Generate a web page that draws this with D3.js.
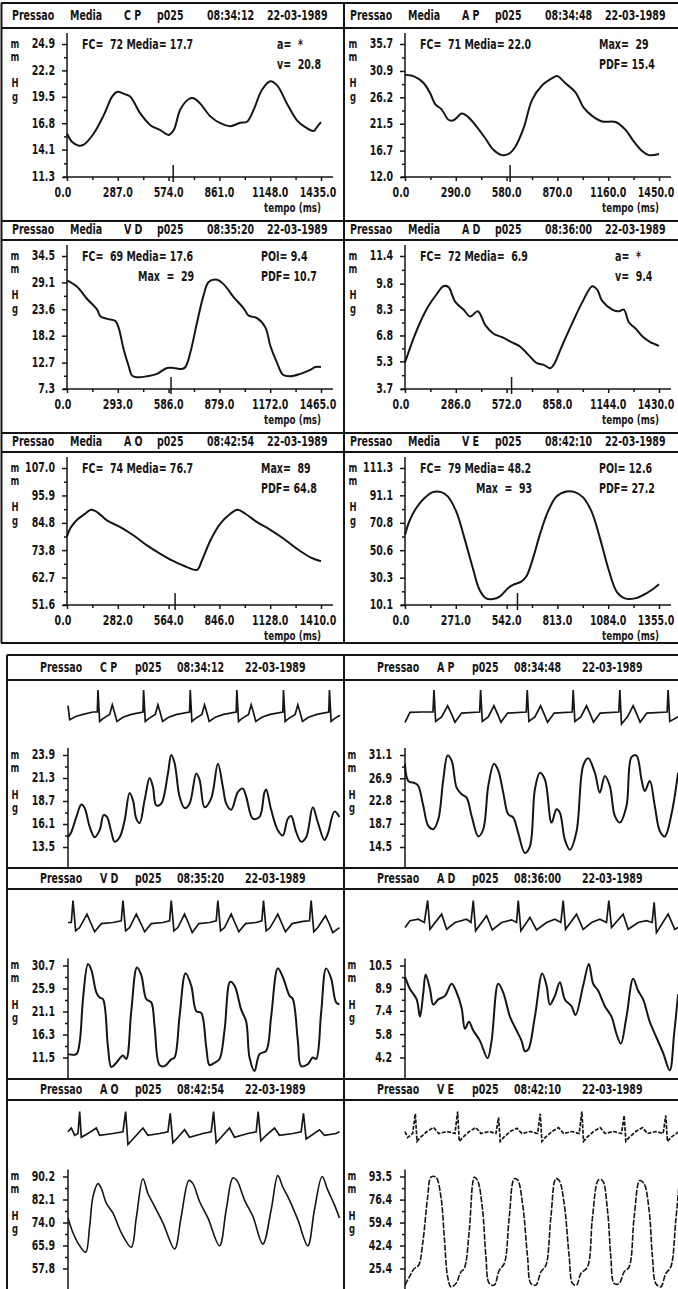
<!DOCTYPE html>
<html>
<head>
<meta charset="utf-8">
<script src="https://cdn.jsdelivr.net/npm/d3@7"></script>
<style>
  body { margin: 0; background: #fff; }
  svg { display: block; }
</style>
</head>
<body>
<svg id="chart" width="678" height="1289"></svg>
<script>
// ---- data ----
const patient = "p025";
const examDate = "22-03-1989";
const chambers = ["C P", "A P", "V D", "A D", "A O", "V E"];
const times = ["08:34:12", "08:34:48", "08:35:20", "08:36:00", "08:42:54", "08:42:10"];

const fcLines = ["FC=  72 Media= 17.7", "FC=  71 Media= 22.0", "FC=  69 Media= 17.6",
                 "FC=  72 Media=  6.9", "FC=  74 Media= 76.7", "FC=  79 Media= 48.2"];
const maxLines = ["", "", "Max  =  29", "", "", "Max  =  93"];
const rightTop = ["a=  *", "Max=  29", "POI= 9.4", "a=  *", "Max=  89", "POI= 12.6"];
const rightBottom = ["v=  20.8", "PDF= 15.4", "PDF= 10.7", "v=  9.4", "PDF= 64.8", "PDF= 27.2"];

// mean-beat panels: y tick labels (mmHg) and x tick labels (ms)
const cpMeanY = [24.9, 22.2, 19.5, 16.8, 14.1, 11.3];
const cpMeanX = [0, 287, 574, 861, 1148, 1435];
const apMeanY = [35.7, 30.9, 26.2, 21.5, 16.7, 12.0];
const apMeanX = [0, 290, 580, 870, 1160, 1450];
const vdMeanY = [34.5, 29.1, 23.6, 18.2, 12.7, 7.3];
const vdMeanX = [0, 293, 586, 879, 1172, 1465];
const adMeanY = [11.4, 9.8, 8.3, 6.8, 5.3, 3.7];
const adMeanX = [0, 286, 572, 858, 1144, 1430];
const aoMeanY = [107.0, 95.9, 84.8, 73.8, 62.7, 51.6];
const aoMeanX = [0, 282, 564, 846, 1128, 1410];
const veMeanY = [111.3, 91.1, 70.8, 50.6, 30.3, 10.1];
const veMeanX = [0, 271, 542, 813, 1084, 1355];
const cursorMs = 600;

// mean beat curves [ms, mmHg]
const cpMean = [[0,15.75],[28,14.9],[66,14.5],[94,14.6],[151,15.75],[207,17.6],[254,19.5],[282,20.0],[330,19.75],[358,19.5],[414,17.8],[471,16.6],[527,16.1],[574,15.6],[603,16.1],[640,18.2],[687,19.25],[715,19.35],[753,18.8],[810,17.5],[866,16.8],[923,16.5],[979,16.85],[1017,16.95],[1054,18.15],[1101,20.2],[1149,21.1],[1186,20.7],[1243,18.8],[1299,17.1],[1346,16.4],[1393,16.0],[1412,16.4],[1435,16.9]];
const apMean = [[0,30.2],[57,29.85],[105,28.8],[143,26.95],[172,25.0],[210,24.0],[248,22.2],[277,22.1],[324,23.3],[353,22.9],[401,21.3],[458,18.9],[506,16.8],[553,15.9],[591,16.1],[630,17.4],[677,20.7],[725,25.7],[782,28.3],[840,29.6],[868,30.0],[916,28.7],[973,27.1],[1021,24.3],[1068,22.9],[1126,21.9],[1202,21.8],[1259,20.4],[1307,18.3],[1355,16.6],[1393,15.9],[1450,16.1]];
const vdMean = [[0,29.5],[58,28.2],[115,25.75],[173,23.57],[192,22.2],[231,21.65],[279,21.2],[298,19.8],[327,15.4],[356,11.96],[375,10.03],[404,9.7],[461,9.9],[519,10.4],[577,11.6],[615,11.6],[663,11.4],[683,11.8],[711,14.7],[750,20.9],[788,26.5],[817,29.2],[865,29.65],[904,28.7],[961,26.1],[1019,23.8],[1048,22.3],[1096,21.8],[1144,19.9],[1173,16.1],[1211,12.7],[1246,10.2],[1288,9.9],[1346,10.4],[1403,11.2],[1432,11.8],[1465,11.8]];
const adMean = [[0,5.24],[19,5.8],[47,6.6],[85,7.55],[132,8.5],[179,9.2],[216,9.65],[245,9.6],[282,8.76],[329,8.3],[367,7.9],[410,8.2],[452,7.4],[499,6.9],[546,6.7],[602,6.4],[649,6.15],[696,5.66],[743,5.2],[781,5.1],[818,4.9],[837,5.1],[884,6.2],[941,7.5],[997,8.7],[1054,9.65],[1082,9.45],[1110,8.8],[1167,8.3],[1204,8.2],[1232,8.3],[1261,7.55],[1298,7.2],[1336,6.75],[1383,6.4],[1430,6.2]];
const aoMean = [[0,79.3],[19,82.7],[56,86.1],[93,88.1],[133,90.1],[167,89.2],[222,85.8],[296,83.1],[370,79.7],[444,75.7],[518,72.3],[592,69.3],[666,66.9],[722,65.8],[749,69.6],[796,77.7],[851,84.5],[907,88.5],[947,90.1],[990,88.5],[1055,85.1],[1129,82.0],[1203,78.4],[1277,74.3],[1351,70.9],[1410,69.3]];
const veMean = [[0,61.9],[23,71.8],[59,81.6],[103,89.0],[148,93.5],[193,93.5],[228,90.3],[273,79.2],[317,59.5],[362,37.3],[398,21.2],[433,15.0],[469,14.5],[505,16.3],[549,22.4],[576,24.9],[620,27.4],[647,31.1],[683,44.7],[719,61.9],[763,79.2],[808,90.3],[861,94.0],[906,93.5],[950,89.6],[995,79.2],[1040,59.5],[1084,37.3],[1129,20.0],[1173,15.0],[1227,15.0],[1271,17.5],[1316,21.2],[1355,25.4]];

// continuous traces: y tick labels (mmHg)
const cpTraceY = [23.9, 21.3, 18.7, 16.1, 13.5];
const apTraceY = [31.1, 26.9, 22.8, 18.7, 14.5];
const vdTraceY = [30.7, 25.9, 21.1, 16.3, 11.5];
const adTraceY = [10.5, 8.9, 7.4, 5.8, 4.2];
const aoTraceY = [90.2, 82.1, 74.0, 65.9, 57.8];
const veTraceY = [93.5, 76.4, 59.4, 42.4, 25.4];
const traceSpanMs = 4900;

// pressure traces [ms, mmHg]
const cpTrace = [[0,14.6],[60,15.2],[150,16.9],[240,18.3],[300,17.9],[390,15.8],[480,14.6],[570,15.4],[642,17.1],[702,16.9],[780,15.2],[840,14.1],[930,14.6],[1020,16.5],[1110,19.6],[1170,18.8],[1230,16.7],[1290,16.2],[1380,18.8],[1470,21.3],[1530,20.3],[1590,18.2],[1680,18.4],[1800,21.8],[1860,23.9],[1920,23.0],[2010,19.2],[2100,17.9],[2190,18.4],[2310,21.8],[2370,21.1],[2460,18.0],[2580,19.0],[2700,22.9],[2790,20.3],[2850,18.4],[2940,17.7],[3060,19.7],[3150,20.1],[3210,19.2],[3330,16.7],[3450,16.9],[3540,19.7],[3570,20.0],[3660,17.7],[3780,15.4],[3870,14.8],[3960,16.7],[4020,17.0],[4110,15.2],[4200,14.1],[4290,14.6],[4410,18.0],[4500,16.3],[4620,14.3],[4680,15.0],[4800,17.5],[4890,16.9]];
const apTrace = [[0,29.5],[60,26.4],[180,26.0],[240,25.5],[330,21.9],[420,18.3],[510,17.7],[600,19.5],[690,26.7],[768,31.0],[840,30.1],[930,25.2],[1020,24.0],[1110,23.4],[1200,20.1],[1320,16.4],[1410,17.7],[1500,25.5],[1602,29.5],[1680,28.3],[1770,24.3],[1860,20.4],[1950,19.8],[2040,17.0],[2160,13.4],[2250,14.6],[2340,24.9],[2430,27.9],[2520,26.7],[2640,18.9],[2730,21.3],[2790,20.7],[2880,15.8],[2970,14.0],[3090,17.3],[3210,29.2],[3300,30.5],[3420,27.9],[3510,24.3],[3600,27.3],[3690,25.5],[3780,20.1],[3870,18.9],[3990,21.9],[4080,30.7],[4170,31.0],[4260,26.7],[4320,24.6],[4410,26.4],[4500,21.9],[4590,17.4],[4680,16.4],[4800,20.4],[4920,27.9]];
const vdTrace = [[0,12.2],[150,12.2],[210,14.7],[270,23.7],[360,31.0],[420,29.8],[510,25.1],[570,24.0],[630,23.7],[720,13.7],[780,9.5],[870,10.4],[990,11.9],[1050,11.2],[1140,21.2],[1242,30.3],[1320,28.7],[1410,23.7],[1500,23.0],[1560,18.0],[1650,9.9],[1740,9.7],[1860,11.1],[1920,11.5],[2010,20.1],[2118,29.1],[2220,26.5],[2310,21.2],[2400,20.8],[2490,13.7],[2550,9.9],[2640,10.4],[2730,11.2],[2820,17.2],[2922,27.3],[3000,26.5],[3120,21.5],[3210,19.0],[3270,11.5],[3360,8.7],[3450,12.2],[3570,12.9],[3660,20.1],[3780,30.1],[3870,28.3],[3990,24.4],[4050,23.7],[4140,15.1],[4200,9.7],[4320,10.1],[4410,11.5],[4470,11.2],[4560,20.8],[4650,30.1],[4740,28.0],[4830,23.0],[4890,22.6]];
const adTrace = [[0,9.72],[90,8.89],[210,8.18],[270,7.0],[330,8.65],[372,9.88],[450,8.89],[510,7.82],[600,8.18],[720,8.42],[840,9.25],[930,8.65],[1020,7.59],[1080,6.17],[1152,6.64],[1230,6.05],[1350,5.34],[1488,4.15],[1560,5.34],[1680,9.25],[1770,8.65],[1890,7.0],[2010,6.05],[2100,5.34],[2160,4.63],[2220,4.75],[2340,7.0],[2472,9.96],[2550,9.13],[2610,7.82],[2700,8.42],[2790,9.36],[2880,8.18],[3000,7.71],[3072,7.11],[3210,9.13],[3312,10.6],[3390,9.25],[3480,8.77],[3600,7.71],[3720,7.0],[3810,5.81],[3888,5.15],[3990,7.0],[4110,9.6],[4200,8.77],[4290,8.18],[4410,6.64],[4530,5.57],[4650,4.51],[4770,3.32],[4848,5.81],[4920,8.53]];
const aoTrace = [[0,75.6],[90,70.4],[210,65.8],[318,63.5],[390,72.7],[450,83.1],[540,87.7],[600,86.0],[690,80.8],[810,77.3],[960,70.4],[1140,65.3],[1230,75.6],[1350,89.4],[1440,84.2],[1530,80.8],[1710,73.9],[1920,64.7],[2040,76.2],[2178,88.8],[2250,87.7],[2370,81.4],[2520,75.6],[2730,65.8],[2850,78.5],[2970,89.7],[3042,88.8],[3180,81.9],[3330,76.2],[3510,66.4],[3660,78.5],[3780,90.5],[3870,86.5],[3990,81.9],[4140,75.0],[4320,65.8],[4440,78.5],[4578,90.2],[4680,85.4],[4800,80.2],[4890,75.6]];
const veTrace = [[0,13.1],[78,19.2],[168,25.4],[246,27.8],[318,43.8],[408,78.2],[468,93.0],[558,93.0],[648,78.2],[708,48.7],[768,19.2],[828,11.8],[918,14.3],[1008,22.9],[1068,25.4],[1158,53.6],[1218,88.1],[1248,93.0],[1308,90.5],[1398,68.4],[1458,34.0],[1518,14.3],[1608,13.1],[1698,24.1],[1788,29.0],[1878,63.5],[1968,91.8],[2028,91.0],[2118,73.3],[2208,34.0],[2268,14.3],[2358,13.1],[2448,22.9],[2538,27.8],[2628,63.5],[2718,91.8],[2778,90.5],[2868,73.3],[2958,34.0],[3018,14.3],[3090,13.1],[3168,21.7],[3288,26.6],[3378,63.5],[3486,91.0],[3558,90.5],[3648,68.4],[3708,34.0],[3768,14.3],[3858,14.3],[3948,22.9],[4038,26.6],[4128,63.5],[4230,90.5],[4308,88.1],[4398,68.4],[4458,34.0],[4518,14.3],[4608,11.8],[4698,21.7],[4788,26.6],[4878,61.0],[4938,88.1]];

// ECG strips [ms, mV]
const cpEcg = [[0,0.29],[30,-0.35],[150,-0.19],[270,-0.11],[450,0],[528,0],[540,1.0],[570,-0.43],[630,-0.3],[750,-0.11],[798,0.33],[840,-0.03],[882,-0.43],[990,-0.24],[1140,-0.11],[1350,0],[1362,1.0],[1392,-0.43],[1452,-0.3],[1572,-0.11],[1620,0.33],[1662,-0.03],[1704,-0.43],[1812,-0.24],[1962,-0.11],[2190,0],[2202,1.0],[2232,-0.43],[2292,-0.3],[2412,-0.11],[2460,0.33],[2502,-0.03],[2544,-0.43],[2652,-0.24],[2802,-0.11],[3030,0],[3042,1.0],[3072,-0.43],[3132,-0.3],[3252,-0.11],[3300,0.33],[3342,-0.03],[3384,-0.43],[3492,-0.24],[3642,-0.11],[3870,0],[3882,1.0],[3912,-0.43],[3972,-0.3],[4092,-0.11],[4140,0.33],[4182,-0.03],[4224,-0.43],[4332,-0.24],[4482,-0.11],[4698,0],[4710,1.0],[4740,-0.43],[4800,-0.3],[4900,-0.15]];
const apEcg = [[0,-0.47],[90,-0.02],[300,0],[504,0],[522,1.0],[552,-0.43],[660,-0.22],[768,0.28],[840,-0.1],[900,-0.47],[1020,-0.05],[1344,0],[1362,1.0],[1392,-0.43],[1500,-0.22],[1602,0.28],[1668,-0.1],[1728,-0.47],[1848,-0.05],[2184,0],[2202,1.0],[2232,-0.43],[2340,-0.22],[2442,0.28],[2508,-0.1],[2568,-0.47],[2688,-0.05],[3012,0],[3030,1.0],[3060,-0.43],[3168,-0.22],[3270,0.28],[3336,-0.1],[3396,-0.47],[3516,-0.05],[3852,0],[3870,1.0],[3900,-0.55],[4008,-0.22],[4110,0.28],[4176,-0.1],[4236,-0.47],[4356,-0.05],[4722,0],[4740,1.0],[4770,-0.43],[4920,-0.22]];
const vdEcg = [[0,0],[60,0],[90,1.0],[138,-0.38],[210,-0.23],[342,0.38],[420,-0.08],[480,-0.42],[600,-0.05],[810,0],[960,0.08],[990,1.0],[1038,-0.38],[1110,-0.23],[1230,0.38],[1320,-0.08],[1380,-0.42],[1500,-0.05],[1710,0],[1830,0.08],[1860,1.0],[1908,-0.38],[1980,-0.23],[2100,0.38],[2178,-0.08],[2238,-0.46],[2358,-0.05],[2550,0],[2670,0.08],[2700,1.0],[2748,-0.38],[2820,-0.23],[2940,0.38],[3018,-0.08],[3078,-0.42],[3198,-0.05],[3390,0],[3492,0.08],[3522,1.0],[3570,-0.38],[3642,-0.23],[3780,0.38],[3858,-0.08],[3918,-0.42],[4038,-0.05],[4230,0.05],[4350,0.08],[4380,1.0],[4428,-0.42],[4500,-0.23],[4638,0.31],[4710,-0.08],[4770,-0.46],[4890,-0.23]];
const adEcg = [[0,-0.23],[90,0.08],[240,0.15],[348,0],[408,1.0],[450,-0.31],[660,0.38],[750,-0.31],[900,0],[1110,0.15],[1188,0],[1230,1.0],[1272,-0.38],[1470,0.31],[1572,-0.34],[1740,0],[1920,0.12],[2010,0],[2040,1.0],[2088,-0.38],[2250,0.23],[2370,-0.34],[2550,0],[2700,0.15],[2808,0],[2850,1.0],[2892,-0.31],[3090,0.38],[3210,-0.31],[3360,0],[3510,0.15],[3630,0],[3672,1.0],[3720,-0.23],[3930,0.38],[4020,-0.31],[4200,0],[4350,0.08],[4452,0],[4488,0.92],[4530,-0.46],[4740,0.38],[4860,-0.31],[4920,-0.23]];
const aoEcg = [[0,0.08],[60,0.25],[120,-0.08],[180,0],[210,1.0],[240,-0.17],[360,0],[510,0.25],[570,-0.08],[810,0],[990,0.08],[1038,1.0],[1080,-0.5],[1170,-0.25],[1350,0.25],[1440,-0.08],[1650,0],[1800,0.08],[1842,0.92],[1890,-0.42],[1980,-0.17],[2100,0.17],[2190,-0.17],[2430,0],[2580,0.08],[2622,1.0],[2670,-0.42],[2760,-0.17],[2910,0.25],[3000,-0.17],[3240,0],[3390,0.08],[3426,1.0],[3474,-0.33],[3570,-0.08],[3720,0.25],[3810,-0.08],[4050,0],[4200,0.08],[4242,0.92],[4290,-0.25],[4530,0.17],[4620,-0.08],[4830,0],[4890,0.08]];
const veEcg = [[0,0.09],[48,-0.18],[138,0],[186,0.9],[216,-0.36],[276,-0.18],[396,0.09],[516,0.27],[606,0],[756,0.09],[900,0],[948,1.0],[978,-0.36],[1038,-0.18],[1158,0.09],[1278,0.27],[1368,0],[1518,0.09],[1638,0],[1686,0.73],[1716,-0.36],[1776,-0.18],[1896,0.09],[2016,0.24],[2106,0],[2256,0.09],[2388,0],[2436,0.9],[2466,-0.36],[2526,-0.18],[2646,0.09],[2766,0.27],[2856,0],[3006,0.09],[3138,0],[3186,1.0],[3216,-0.36],[3276,-0.18],[3396,0.09],[3516,0.27],[3606,0],[3756,0.09],[3900,0],[3948,0.82],[3978,-0.36],[4038,-0.18],[4158,0.09],[4278,0.27],[4368,0],[4518,0.09],[4650,0],[4698,0.82],[4728,-0.36],[4788,-0.18],[4938,0.09]];

// ---- drawing ----
const ink = "#151515";
const font = "'DejaVu Sans Condensed','DejaVu Sans',sans-serif";
const narrow = 0.78;   // printer font is narrow and tall
const svg = d3.select("#chart")
  .attr("font-family", font)
  .attr("font-weight", "bold");
svg.append("rect").attr("width", 678).attr("height", 1289).attr("fill", "#fff");

// text drawn at a smaller size and stretched vertically -> narrow tall glyphs
function put(g, x, y, s, anchor = "start", size = 13.5) {
  return g.append("text")
    .attr("transform", `translate(${x},${y}) scale(1,${(1 / narrow).toFixed(3)})`)
    .attr("text-anchor", anchor)
    .attr("dominant-baseline", "central")
    .attr("font-size", size * narrow)
    .attr("fill", ink)
    .style("white-space", "pre")
    .text(s);
}

function hline(g, x1, x2, y, w = 2) {
  g.append("line").attr("x1", x1).attr("x2", x2).attr("y1", y).attr("y2", y)
    .attr("stroke", ink).attr("stroke-width", w);
}
function vline(g, x, y1, y2, w = 2) {
  g.append("line").attr("x1", x).attr("x2", x).attr("y1", y1).attr("y2", y2)
    .attr("stroke", ink).attr("stroke-width", w);
}

function midpoints(ticks) {
  const s = ticks.slice().sort((a, b) => a - b);
  return s.slice(1).map((v, i) => (v + s[i]) / 2);
}

function styleAxis(sel) {
  sel.select(".domain").remove();
  sel.selectAll(".tick line").attr("stroke", ink).attr("stroke-width", 1.5);
  sel.selectAll(".tick text").remove();
}

const fmt = d3.format(".1f");

// frames
const frame = svg.append("g");
[3, 28, 221, 240, 433, 452, 643].forEach(yy => hline(frame, 1, 678, yy));
vline(frame, 1.5, 3, 643);
vline(frame, 344, 3, 643);
[655, 680, 868, 889, 1079, 1100].forEach(yy => hline(frame, 7, 678, yy));
vline(frame, 7, 655, 1289);
vline(frame, 344, 655, 1289);

// ---- mean beat panels (top) ----
const meanPanels = [
  { data: cpMean, yTicks: cpMeanY, xTicks: cpMeanX },
  { data: apMean, yTicks: apMeanY, xTicks: apMeanX },
  { data: vdMean, yTicks: vdMeanY, xTicks: vdMeanX },
  { data: adMean, yTicks: adMeanY, xTicks: adMeanX },
  { data: aoMean, yTicks: aoMeanY, xTicks: aoMeanX },
  { data: veMean, yTicks: veMeanY, xTicks: veMeanX },
];
const axisBase = [177, 177, 181];

meanPanels.forEach((p, i) => {
  const col = i % 2, row = Math.floor(i / 2);
  const g = svg.append("g").attr("transform", `translate(${col * 338},${row * 212})`);
  const base = axisBase[row];

  const x = d3.scaleLinear().domain([0, d3.max(p.xTicks)]).range([67, 321]);
  const y = d3.scaleLinear().domain(d3.extent(p.yTicks)).range([base, 44]);

  // header words
  const words = ["Pressao", "Media", chambers[i], patient, times[i], examDate];
  [12, 70, 124, 157, 207, 267].forEach((hx, k) => put(g, hx, row ? 17.5 : 15.5, words[k]));

  // info
  put(g, 82, 45, fcLines[i]);
  if (maxLines[i]) put(g, 138, 65, maxLines[i]);
  const rx = rightTop[i].startsWith("a=") ? 277 : 261;
  put(g, rx, 45, rightTop[i]);
  put(g, rx, 65, rightBottom[i]);

  // units
  [["m", 44], ["m", 57], ["H", 83], ["g", 97]].forEach(([c, yy]) => put(g, 15, yy, c, "middle", 12));

  // axes
  vline(g, 67, 33, base, 1.5);
  hline(g, 63, 333, base, 1.5);
  g.append("g").attr("transform", "translate(67,0)")
    .call(d3.axisLeft(y).tickValues(p.yTicks).tickSize(5))
    .call(styleAxis);
  g.append("g").attr("transform", "translate(67,0)")
    .call(d3.axisLeft(y).tickValues(midpoints(p.yTicks)).tickSize(3))
    .call(styleAxis);
  g.append("g").attr("transform", `translate(0,${base})`)
    .call(d3.axisBottom(x).tickValues(p.xTicks).tickSize(4))
    .call(styleAxis);
  g.append("g").attr("transform", `translate(0,${base})`)
    .call(d3.axisBottom(x).tickValues(midpoints(p.xTicks)).tickSize(3))
    .call(styleAxis);
  p.yTicks.forEach(v => put(g, 55, y(v), fmt(v), "end"));
  // first and last x labels sit a little inwards on the printout
  p.xTicks.forEach((v, k) => {
    const nudge = k === 0 ? -4 : k === p.xTicks.length - 1 ? -3 : 0;
    put(g, x(v) + nudge, base + 15.5, fmt(v), "middle");
  });
  put(g, 321, base + 31, "tempo (ms)", "end", 12.5);

  // cursor mark
  vline(g, x(cursorMs), base - 12, base + 5, 1.5);

  // curve
  g.append("path")
    .datum(p.data)
    .attr("fill", "none")
    .attr("stroke", ink)
    .attr("stroke-width", 2)
    .attr("stroke-linejoin", "round")
    .attr("d", d3.line().x(d => x(d[0])).y(d => y(d[1])).curve(d3.curveCatmullRom.alpha(0.5)));
});

// ---- continuous traces (bottom) ----
const tracePanels = [
  { data: cpTrace, ecg: cpEcg, yTicks: cpTraceY },
  { data: apTrace, ecg: apEcg, yTicks: apTraceY },
  { data: vdTrace, ecg: vdEcg, yTicks: vdTraceY },
  { data: adTrace, ecg: adEcg, yTicks: adTraceY },
  { data: aoTrace, ecg: aoEcg, yTicks: aoTraceY },
  { data: veTrace, ecg: veEcg, yTicks: veTraceY },
];
const headerMid = [668, 878.5, 1089.5];
const rowEnd = [868, 1079, 1289];

svg.append("clipPath").attr("id", "colclip")
  .append("rect").attr("x", 9).attr("y", 640).attr("width", 333).attr("height", 660);

tracePanels.forEach((p, i) => {
  const col = i % 2, row = Math.floor(i / 2);
  const H = headerMid[row];
  const g = svg.append("g").attr("transform", `translate(${col * 337},0)`);

  const x = d3.scaleLinear().domain([0, traceSpanMs]).range([68, 340]);
  const y = d3.scaleLinear().domain(d3.extent(p.yTicks)).range([H + 179, H + 87]);
  const e = d3.scaleLinear().domain([0, 1]).range([H + 44, H + 22]);

  const words = ["Pressao", chambers[i], patient, times[i], examDate];
  [40, 100, 135, 177, 245].forEach((hx, k) => put(g, hx, H, words[k]));

  [["m", H + 87], ["m", H + 100], ["H", H + 127], ["g", H + 140]].forEach(([c, yy]) => put(g, 15, yy, c, "middle", 12));

  vline(g, 68, H + 80, rowEnd[row], 1.5);
  g.append("g").attr("transform", "translate(68,0)")
    .call(d3.axisLeft(y).tickValues(p.yTicks).tickSize(5))
    .call(styleAxis);
  g.append("g").attr("transform", "translate(68,0)")
    .call(d3.axisLeft(y).tickValues(midpoints(p.yTicks)).tickSize(3))
    .call(styleAxis);
  p.yTicks.forEach(v => put(g, 55, y(v), fmt(v), "end"));

  const faint = i >= 4;
  const plots = g.append("g").attr("clip-path", "url(#colclip)");
  plots.append("path")
    .datum(p.ecg)
    .attr("fill", "none")
    .attr("stroke", ink)
    .attr("stroke-width", 1.7)
    .attr("stroke-dasharray", i === 5 ? "4,1.5" : null)
    .attr("d", d3.line().x(d => x(d[0])).y(d => e(d[1])));
  plots.append("path")
    .datum(p.data)
    .attr("fill", "none")
    .attr("stroke", ink)
    .attr("stroke-width", faint ? 1.6 : 2)
    .attr("stroke-dasharray", i === 5 ? "6,1.5" : null)
    .attr("stroke-linejoin", "round")
    .attr("d", d3.line().x(d => x(d[0])).y(d => y(d[1])).curve(d3.curveCatmullRom.alpha(0.5)));
});
</script>
</body>
</html>
